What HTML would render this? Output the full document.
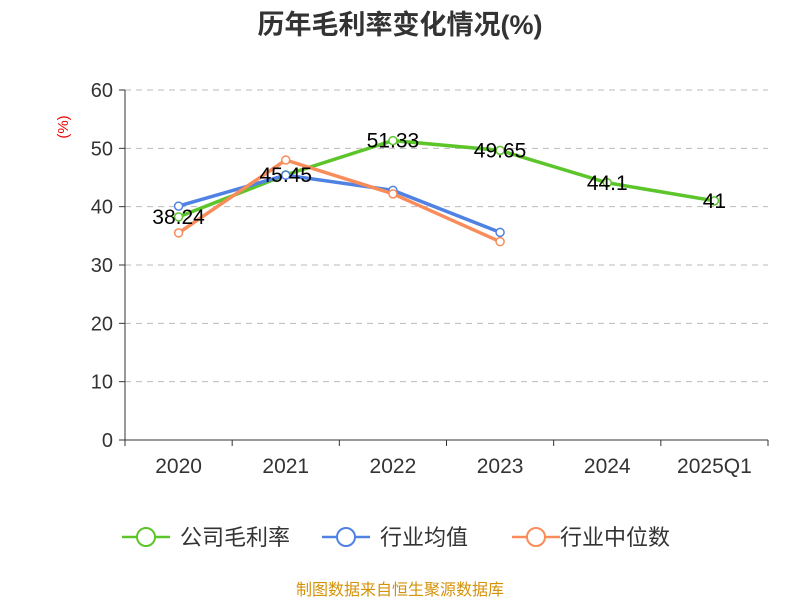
<!DOCTYPE html>
<html><head><meta charset="utf-8"><style>
body{margin:0;background:#fff;font-family:"Liberation Sans","Noto Sans CJK SC",sans-serif}
</style></head><body>
<svg width="800" height="600" xmlns="http://www.w3.org/2000/svg" id="c">
<text x="400" y="34" text-anchor="middle" font-size="27" font-weight="bold" fill="#333" font-family="Liberation Sans,Noto Sans CJK SC,sans-serif">历年毛利率变化情况(%)</text>
<text transform="translate(68,127) rotate(-90)" text-anchor="middle" font-size="15" fill="#e00">(%)</text>
<g id="grid"></g><g id="axes"></g><g id="series"></g>
<g font-size="22" fill="#333" font-family="Liberation Sans,Noto Sans CJK SC,sans-serif">
 <g><line x1="122" y1="537" x2="170" y2="537" stroke="#5bc52a" stroke-width="2.5"/><circle cx="146" cy="537" r="9" fill="#fff" stroke="#5bc52a" stroke-width="2"/><text x="180" y="545">公司毛利率</text></g>
 <g><line x1="322" y1="537" x2="370" y2="537" stroke="#4f82e3" stroke-width="2.5"/><circle cx="346" cy="537" r="9" fill="#fff" stroke="#4f82e3" stroke-width="2"/><text x="380" y="545">行业均值</text></g>
 <g><line x1="512" y1="537" x2="560" y2="537" stroke="#f98c5b" stroke-width="2.5"/><circle cx="536" cy="537" r="9" fill="#fff" stroke="#f98c5b" stroke-width="2"/><text x="560" y="545" dx="0">行业中位数</text></g>
</g>
<text x="400" y="595" text-anchor="middle" font-size="16" fill="#d4920a">制图数据来自恒生聚源数据库</text>
</svg>
<script>
const categories=["2020","2021","2022","2023","2024","2025Q1"];
const companyVals=[38.24,45.45,51.33,49.65,44.1,41];
const avgVals=[40.1,45.4,42.8,35.6];
const medianVals=[35.5,48.0,42.2,34.0];
const yTicks=[0,10,20,30,40,50,60];
const NS="http://www.w3.org/2000/svg";
const X0=125,X1=768,Y0=440,Y1=90,YMAX=60;
const bw=(X1-X0)/categories.length;
const xs=i=>X0+bw*(i+0.5);
const ys=v=>Y0-(v/YMAX)*(Y0-Y1);
function mk(t,a,p){const e=document.createElementNS(NS,t);for(const k in a)e.setAttribute(k,a[k]);p.appendChild(e);return e;}
const grid=document.getElementById('grid'),axes=document.getElementById('axes'),ser=document.getElementById('series');
yTicks.forEach(v=>{
 if(v>0){const g=mk('line',{x1:X0,x2:X1,y1:ys(v),y2:ys(v),stroke:'#bbb','stroke-dasharray':'6,5'},grid);
 
 }
 const tk=mk('line',{x1:X0-6,x2:X0,y1:ys(v),y2:ys(v),stroke:'#333'},axes);
 
 
 const t=mk('text',{x:X0-12,y:ys(v)+7,'text-anchor':'end','font-size':20,fill:'#333'},axes);t.textContent=v;
 
 
});
const ya=mk('line',{x1:X0,x2:X0,y1:Y1,y2:Y0,stroke:'#333'},axes);


const xa=mk('line',{x1:X0,x2:X1,y1:Y0,y2:Y0,stroke:'#333'},axes);


for(let i=0;i<=categories.length;i++){const l=mk('line',{x1:X0+bw*i,x2:X0+bw*i,y1:Y0,y2:Y0+6,stroke:'#333'},axes);
 
 }
categories.forEach((c,i)=>{const t=mk('text',{x:xs(i),y:Y0+33,'text-anchor':'middle','font-size':21,fill:'#333'},axes);t.textContent=c;
 
 });
function series(vals,color,name){
 const g=mk('g',{},ser);
 
 
 const p=mk('polyline',{points:vals.map((v,i)=>xs(i)+','+ys(v)).join(' '),fill:'none',stroke:color,'stroke-width':3.5},g);
 
 
 vals.forEach((v,i)=>{const c=mk('circle',{cx:xs(i),cy:ys(v),r:4,fill:'#fff',stroke:color,'stroke-width':1.5},g);
  
  });
}
series(companyVals,'#5bc52a','company-margin');
series(avgVals,'#4f82e3','industry-avg');
series(medianVals,'#f98c5b','industry-median');
companyVals.forEach((v,i)=>{const t=mk('text',{x:xs(i),y:ys(v)+7,'text-anchor':'middle','font-size':21,fill:'#000'},ser);t.textContent=v;
 
 });
</script>
</body></html>
